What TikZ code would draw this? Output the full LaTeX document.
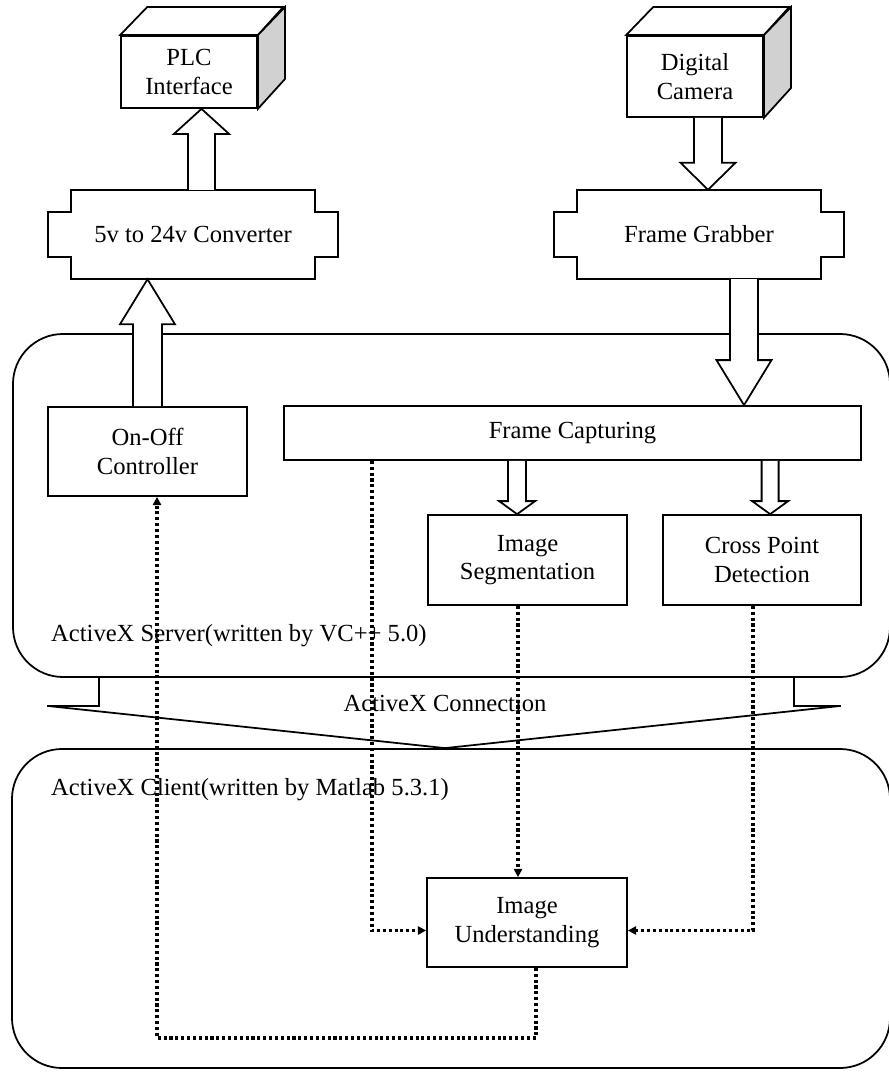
\documentclass[tikz,border=0pt]{standalone}
\usepackage{fontspec}
\setmainfont{Liberation Serif}
\usetikzlibrary{calc,arrows.meta}

\tikzset{
  box/.style={draw, line width=1.5pt, fill=white, align=center, inner sep=0pt},
  plain/.style={align=center, inner sep=0pt},
  region/.style={draw, line width=1.5pt, rounded corners=1.5cm, inner sep=0pt},
  outline/.style={line width=1.5pt, line join=miter},
  fatline/.style={draw, line width=1.5pt, fill=white, line join=miter},
  dotarrow/.style={line width=3pt, dash pattern=on 2.6pt off 2.4pt,
    -{Triangle[length=7pt,width=7pt]}},
}

\newcommand{\fatarrow}[5]{%
  \draw[fatline] ($(#1)+(-#3,0)$) -- ($(#2)+(-#3,#5)$) -- ($(#2)+(-#4,#5)$) -- (#2)
    -- ($(#2)+(#4,#5)$) -- ($(#2)+(#3,#5)$) -- ($(#1)+(#3,0)$);}

\newcommand{\notchbox}[1]{%
  \draw[outline] (#1.north west) -- (#1.north east) -- ++(0,22) -- ++(23,0) -- ++(0,45)
    -- ++(-23,0) -- (#1.south east) -- (#1.south west) -- ++(0,-22) -- ++(-23,0)
    -- ++(0,-45) -- ++(23,0) -- cycle;}

\begin{document}
\begin{tikzpicture}[x=0.03cm, y=-0.03cm, font=\fontsize{21}{24.5}\selectfont]
      \useasboundingbox (0,0) rectangle (888,1072);

      \node[region, minimum width=26.31cm, minimum height=10.29cm] (server) at (451.5,505.5) {};
      \node[region, minimum width=26.34cm, minimum height=9.57cm] (client) at (451,908.5) {};

      \node[box, minimum width=4.08cm, minimum height=2.16cm] (plc) at (189,72) {PLC\\Interface};
      \draw[fatline] (plc.north west) -- ++(27,-28) -- ++(136,0) -- (plc.north east) -- cycle;
      \draw[fatline, fill=black!18] (plc.north east) -- ++(27,-28) -- ++(0,72) -- (plc.south east) -- cycle;

      \node[box, minimum width=4.08cm, minimum height=2.43cm] (cam) at (695,76.5) {Digital\\Camera};
      \draw[fatline] (cam.north west) -- ++(27,-28) -- ++(136,0) -- (cam.north east) -- cycle;
      \draw[fatline, fill=black!18] (cam.north east) -- ++(27,-28) -- ++(0,81) -- (cam.south east) -- cycle;

      \node[plain, minimum width=7.32cm, minimum height=2.67cm] (conv) at (193,234.5) {5v to 24v Converter};
      \notchbox{conv}
      \node[plain, minimum width=7.32cm, minimum height=2.67cm] (grab) at (699,234.5) {Frame Grabber};
      \notchbox{grab}

      \node[box, minimum width=5.97cm, minimum height=2.67cm] (onoff) at (147.5,451.5) {On-Off\\Controller};
      \node[box, minimum width=17.31cm, minimum height=1.62cm] (capt) at (572.5,433) {Frame Capturing};
      \node[box, minimum width=5.97cm, minimum height=2.7cm] (seg) at (527.5,560) {Image\\Segmentation};
      \node[box, minimum width=5.94cm, minimum height=2.7cm] (cross) at (762,560) {Cross Point\\Detection};
      \node[box, minimum width=6cm, minimum height=2.67cm] (under) at (527,922.5) {Image\\Understanding};

      \node[anchor=west] (srvlab) at (47,636) {ActiveX Server(written by VC++ 5.0)};
      \node (conlab) at (445,703) {ActiveX Connection};
      \node[anchor=west] (clilab) at (47,790) {ActiveX Client(written by Matlab 5.3.1)};

      \coordinate (tip) at (conlab |- client.north);
      \draw[outline] ($(server.south west)+(87,0)$) -- ++(0,28) -- ++(-52,0) -- (tip)
        -- ($(server.south east)+(-50,28)$) -- ++(-47,0) -- ++(0,-28);

      \coordinate (a1) at ($(conv.north)+(8.5,0)$);
      \coordinate (b1) at (a1 |- plc.south);
      \fatarrow{a1}{b1}{13.5}{27.5}{25}
      \coordinate (a2) at ($(cam.south)+(13,0)$);
      \coordinate (b2) at (a2 |- grab.north);
      \fatarrow{a2}{b2}{14}{27.5}{-27}
      \coordinate (a3) at (onoff.north);
      \coordinate (b3) at (a3 |- conv.south);
      \fatarrow{a3}{b3}{14.5}{27.5}{45}
      \coordinate (a4) at ($(grab.south)+(45,0)$);
      \coordinate (b4) at (a4 |- capt.north);
      \fatarrow{a4}{b4}{14}{27.5}{-45}
      \coordinate (a5) at ($(capt.south west)+(234,0)$);
      \coordinate (b5) at (a5 |- seg.north);
      \fatarrow{a5}{b5}{9}{18}{-13}
      \coordinate (a6) at ($(capt.south west)+(487,0)$);
      \coordinate (b6) at (a6 |- cross.north);
      \fatarrow{a6}{b6}{8.5}{18}{-13}

      \begin{scope}[dotarrow]
        \draw ($(capt.south west)+(89,0)$) |- ($(under.west)+(0,8)$);
        \coordinate (s1) at ($(seg.south)+(-9.5,0)$);
        \draw (s1) -- (s1 |- under.north);
        \draw ($(cross.south)+(-9,0)$) |- ($(under.east)+(0,8)$);
        \draw ($(under.south)+(9,0)$) -- ++(0,70) -| ($(onoff.south)+(9.5,0)$);
      \end{scope}
\end{tikzpicture}
\end{document}
